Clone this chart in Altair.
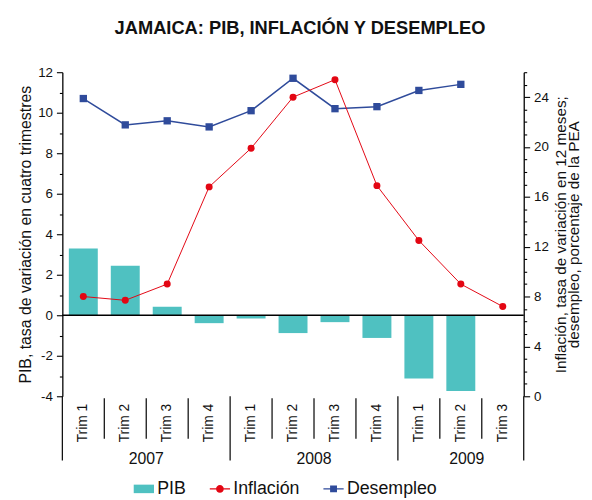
import altair as alt
import pandas as pd

# ---- data ----
years = ["2007", "2007", "2007", "2007", "2008", "2008", "2008", "2008", "2009", "2009", "2009"]
trims = ["Trim 1", "Trim 2", "Trim 3", "Trim 4", "Trim 1", "Trim 2", "Trim 3", "Trim 4", "Trim 1", "Trim 2", "Trim 3"]
pib = [3.3, 2.45, 0.42, -0.39, -0.16, -0.88, -0.34, -1.12, -3.12, -3.74, None]
inflacion = [8.0, 7.7, 9.0, 16.8, 19.9, 24.0, 25.4, 16.9, 12.5, 9.0, 7.2]
desempleo = [10.7, 9.4, 9.6, 9.3, 10.1, 11.7, 10.2, 10.3, 11.1, 11.4, None]

series = ["PIB", "Inflación", "Desempleo"]
series_colors = ["#4fc1c1", "#e30613", "#2f4b9b"]
series_shapes = [
    "M-1,-0.42H1V0.42H-1Z",
    "M-1,-0.06H1V0.06H-1Z M-0.38,0A0.38,0.38 0 1,1 0.38,0A0.38,0.38 0 1,1 -0.38,0Z",
    "M-1,-0.07H1V0.07H-1Z M-0.34,-0.34H0.34V0.34H-0.34Z",
]

title_text = "JAMAICA: PIB, INFLACIÓN Y DESEMPLEO"
left_title = "PIB, tasa de variación en cuatro trimestres"
right_title = ["Inflación, tasa de variación en 12 meses;", "desempleo, porcentaje de la PEA"]

FONT = "Liberation Sans"
W, H = 467, 328

periodos = [f"{y}|{t}" for y, t in zip(years, trims)]
df = pd.DataFrame({"periodo": periodos, "anio": years, "trim": trims,
                   "pib": pib, "inflacion": inflacion, "desempleo": desempleo})

# year label anchors (centre of each group of quarters)
year_rows = []
for y in dict.fromkeys(years):
    members = [p for p, yy in zip(periodos, years) if yy == y]
    mid = len(members) // 2
    year_rows.append({"periodo": members[mid], "anio": y, "par": len(members) % 2 == 0})
ydf = pd.DataFrame(year_rows)

x_axis = alt.Axis(labelAngle=270, labelExpr="split(datum.value, '|')[1]", domain=False,
                  ticks=False, labelPadding=7, labelFontSize=14, title=None, grid=False,
                  labelColor="#111", labelFont=FONT)
x_scale = alt.Scale(domain=periodos, paddingInner=0, paddingOuter=0)


def xenc(band=None):
    if band is None:
        return alt.X("periodo:N", scale=x_scale, axis=x_axis, sort=periodos)
    return alt.X("periodo:N", scale=x_scale, axis=x_axis, sort=periodos, bandPosition=band)


left_scale = alt.Scale(domain=[-4, 12], nice=False, zero=False)
left_axis = alt.Axis(values=list(range(-4, 13)),
                     labelExpr="datum.value % 2 == 0 ? '' + datum.value : ''",
                     tickSize={"condition": {"test": "datum.value % 2 == 0", "value": 6}, "value": 3},
                     title=left_title, titleFontSize=16, titleFontWeight="normal", titlePadding=4,
                     labelFontSize=13.5, labelPadding=4, grid=False, labelColor="#111",
                     titleColor="#111", labelFont=FONT, titleFont=FONT)
right_scale = alt.Scale(domain=[0, 26], nice=False, zero=False)
right_axis = alt.Axis(orient="right", values=list(range(0, 27)),
                      labelExpr="datum.value % 4 == 0 && datum.value <= 24 ? '' + datum.value : ''",
                      tickSize={"condition": {"test": "datum.value % 4 == 0", "value": 6}, "value": 3},
                      title=right_title, titleAngle=270, titleFontSize=15.5, titleFontWeight="normal",
                      titlePadding=8, labelFontSize=13.5, labelPadding=4, grid=False,
                      labelColor="#111", titleColor="#111", labelFont=FONT, titleFont=FONT,
                      titleLineHeight=12.5)

base = alt.Chart(df)

bars = base.transform_filter("isValid(datum.pib)").mark_bar(
    width=alt.RelativeBandSize(0.69), color=series_colors[0]
).encode(x=xenc(), y=alt.Y("pib:Q", scale=left_scale, axis=left_axis))

zero = alt.Chart(pd.DataFrame({"v": [0]})).mark_rule(color="black", strokeWidth=1.5).encode(
    y=alt.Y("v:Q", scale=left_scale, axis=left_axis)
)

des = base.transform_filter("isValid(datum.desempleo)")
des_line = des.mark_line(color=series_colors[2], strokeWidth=1.5).encode(
    x=xenc(), y=alt.Y("desempleo:Q", scale=left_scale, axis=left_axis))
des_pts = des.mark_point(shape="square", filled=True, size=55, opacity=1,
                         color=series_colors[2]).encode(
    x=xenc(), y=alt.Y("desempleo:Q", scale=left_scale, axis=left_axis))

sep_short = base.transform_filter("datum.trim != 'Trim 1'").mark_rule(
    color="black", strokeWidth=1.2).encode(
    x=xenc(0), y=alt.value(H + 2), y2=alt.value(H + 43))
sep_long = base.transform_filter("datum.trim == 'Trim 1'").mark_rule(
    color="black", strokeWidth=1.2).encode(
    x=xenc(0), y=alt.value(H), y2=alt.value(H + 65))
sep_end = alt.Chart(df.tail(1)).mark_rule(color="black", strokeWidth=1.2).encode(
    x=xenc(1), y=alt.value(H), y2=alt.value(H + 65))

yr_even = alt.Chart(ydf).transform_filter("datum.par").mark_text(
    fontSize=16, font=FONT, color="#111", baseline="alphabetic").encode(
    x=xenc(0), y=alt.value(H + 69), text="anio:N")
yr_odd = alt.Chart(ydf).transform_filter("!datum.par").mark_text(
    fontSize=16, font=FONT, color="#111", baseline="alphabetic", dx=6).encode(
    x=xenc(0.5), y=alt.value(H + 69), text="anio:N")

legend_layer = alt.Chart(pd.DataFrame({"serie": series})).mark_point(
    filled=True, opacity=1, size=10, clip=True).encode(
    x=alt.value(-300), y=alt.value(-300),
    color=alt.Color("serie:N", scale=alt.Scale(domain=series, range=series_colors),
                    legend=alt.Legend(orient="none", legendX=72, legendY=411, direction="horizontal",
                                      title=None, labelFontSize=18, labelFont=FONT, labelColor="#111",
                                      symbolSize=420, symbolOpacity=1, symbolStrokeWidth=0,
                                      columnPadding=23, labelOffset=3)),
    shape=alt.Shape("serie:N", scale=alt.Scale(domain=series, range=series_shapes)),
)

left_layer = alt.layer(bars, zero, des_line, des_pts, sep_short, sep_long, sep_end,
                       yr_even, yr_odd, legend_layer)

inf = base
inf_line = inf.mark_line(color=series_colors[1], strokeWidth=1).encode(
    x=xenc(), y=alt.Y("inflacion:Q", scale=right_scale, axis=right_axis))
inf_pts = inf.mark_point(shape="circle", filled=True, size=50, opacity=1,
                         color=series_colors[1]).encode(
    x=xenc(), y=alt.Y("inflacion:Q", scale=right_scale, axis=right_axis))
right_layer = alt.layer(inf_line, inf_pts)

chart = alt.layer(left_layer, right_layer).resolve_scale(y="independent").properties(
    width=W, height=H,
    title=alt.TitleParams(title_text, fontSize=18.5, font=FONT, fontWeight="bold", color="#111",
                          anchor="middle", offset=28, dx=7),
    autosize=alt.AutoSizeParams(type="none"),
    padding={"left": 55, "top": 62, "right": 61, "bottom": 102},
).configure_view(stroke=None).configure_axis(
    domainColor="black", domainWidth=1.3, tickColor="black", tickWidth=1.1
)

chart.save("out.html", embed_options={"renderer": "svg", "actions": False})
